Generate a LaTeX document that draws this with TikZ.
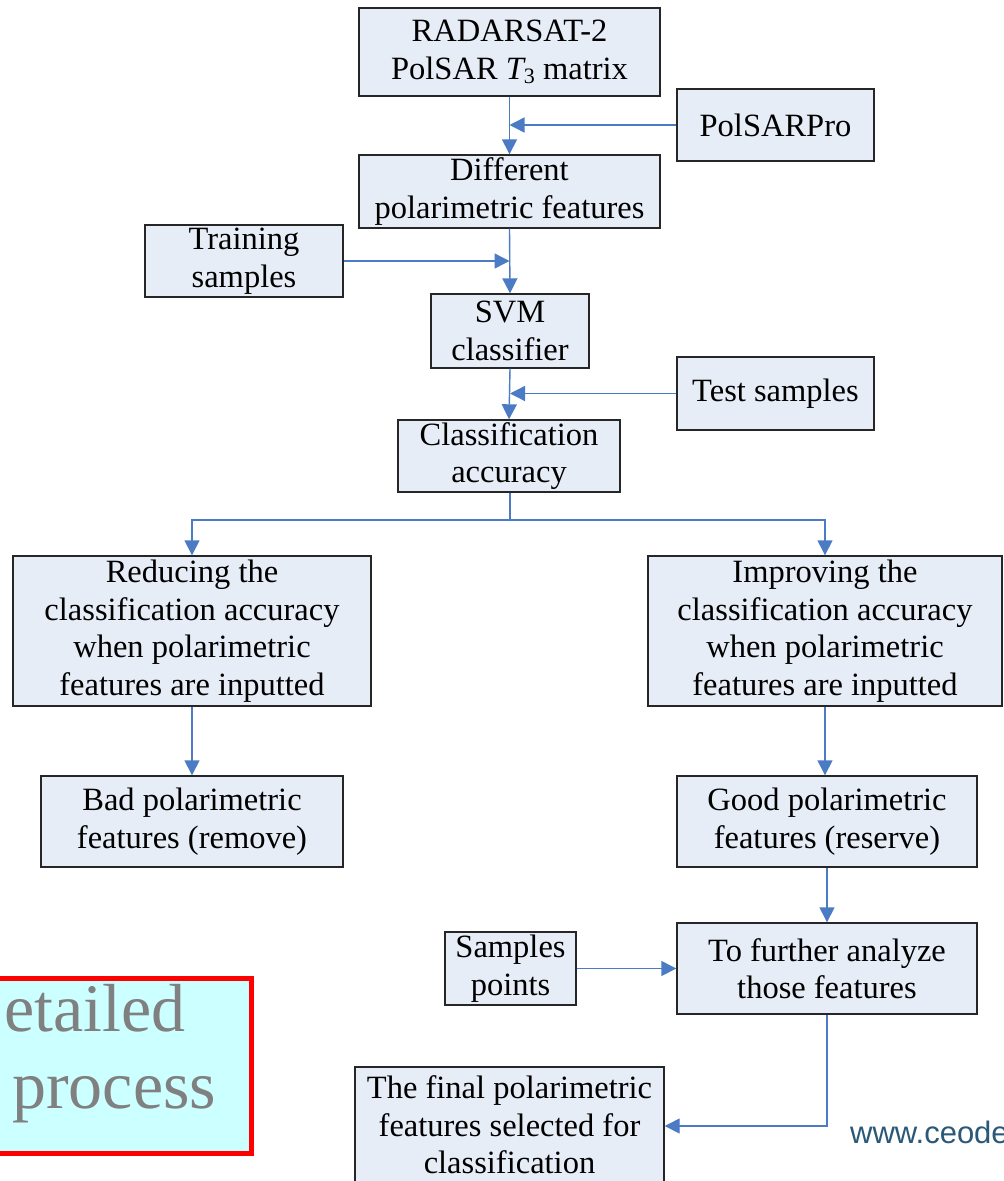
\documentclass[tikz,border=0pt]{standalone}
\usepackage{fontspec}
\setmainfont{Liberation Serif}
\newfontfamily\wmfont{Liberation Sans}
\usetikzlibrary{arrows.meta}
\definecolor{boxfill}{HTML}{E7EDF7}
\definecolor{lineblue}{HTML}{4A7BC4}
\definecolor{cyanfill}{HTML}{CCFFFF}
\definecolor{wmblue}{HTML}{2A5878}
\tikzset{
  fbox/.style={draw=black!85, line width=1.4pt, fill=boxfill, inner sep=0pt, align=center,
    font=\fontsize{32.5}{37.5}\selectfont},
  conn/.style={draw=lineblue, line width=1.4pt, -{Triangle[length=15pt,width=15pt]}},
  plain/.style={draw=lineblue, line width=1.4pt},
  graytext/.style={anchor=base west, text=gray, font=\fontsize{68}{70}\selectfont, inner sep=0pt}
}
\begin{document}
\begin{tikzpicture}[x=1pt,y=-1pt]
\clip (0,0) rectangle (1004,1181);
\fill[white] (0,0) rectangle (1004,1181);
% boxes
\node[fbox, minimum width=301pt, minimum height=88pt] (rad) at (509.5,52) {RADARSAT-2\\PolSAR {\itshape T}\raisebox{-0.3ex}{\fontsize{22}{22}\selectfont 3} matrix};
\node[fbox, minimum width=197pt, minimum height=72pt] (pro) at (775.5,125) {PolSARPro};
\node[fbox, minimum width=301pt, minimum height=73pt] (dif) at (509.5,191.5) {Different\\polarimetric features};
\node[fbox, minimum width=198pt, minimum height=72pt] (tra) at (244,261) {Training\\samples};
\node[fbox, minimum width=158pt, minimum height=74pt] (svm) at (510,331) {SVM\\classifier};
\node[fbox, minimum width=197pt, minimum height=73pt] (tes) at (775.5,393.5) {Test samples};
\node[fbox, minimum width=222pt, minimum height=72pt] (acc) at (509,456) {Classification\\accuracy};
\node[fbox, minimum width=358pt, minimum height=150pt] (red) at (192,631) {Reducing the\\classification accuracy\\when polarimetric\\features are inputted};
\node[fbox, minimum width=354pt, minimum height=150pt] (imp) at (825,631) {Improving the\\classification accuracy\\when polarimetric\\features are inputted};
\node[fbox, minimum width=302pt, minimum height=91pt] (bad) at (192,821.5) {Bad polarimetric\\features (remove)};
\node[fbox, minimum width=300pt, minimum height=91pt] (goo) at (827,821.5) {Good polarimetric\\features (reserve)};
\node[fbox, minimum width=131pt, minimum height=73pt] (sam) at (510.5,968.5) {Samples\\points};
\node[fbox, minimum width=300pt, minimum height=91pt] (fur) at (827,968.5) {To further analyze\\those features};
\node[fbox, minimum width=309pt, minimum height=116pt] (fin) at (509.5,1125) {The final polarimetric\\features selected for\\classification};
% connectors
\draw[conn] (rad.south) -- (dif.north);
\draw[conn] (pro.west) -- (rad.south |- pro.west);
\draw[conn] (tra.east) -- (dif.south |- tra.east);
\draw[conn] (dif.south) -- (svm.north);
\draw[conn] (tes.west) -- (svm.south |- tes.west);
\draw[conn] (svm.south) -- (acc.north);
\coordinate (split) at (510,520);
\draw[plain] (acc.south -| split) -- (split);
\draw[conn] (split) -| (red.north);
\draw[conn] (split) -| (imp.north);
\draw[conn] (red.south) -- (bad.north);
\draw[conn] (imp.south) -- (imp.south |- goo.north);
\draw[conn] (goo.south) -- (fur.north);
\draw[conn] (sam.east) -- (fur.west);
\coordinate (bend) at (827,1126);
\draw[conn] (fur.south) -- (bend) -- (fin.east |- bend);
% red box
\node[draw=red, line width=5pt, fill=cyanfill, minimum width=270pt, minimum height=175pt, inner sep=0pt] (rbox) at (116,1065.5) {};
\node[graytext] (t1) at (4,1031) {etailed};
\node[graytext] (t2) at (12,1108) {process};
% watermark
\node[anchor=base west, text=wmblue, font=\wmfont\fontsize{31}{32}\selectfont, inner sep=0pt] (wm) at (850,1143) {www.ceode};
\end{tikzpicture}
\end{document}
